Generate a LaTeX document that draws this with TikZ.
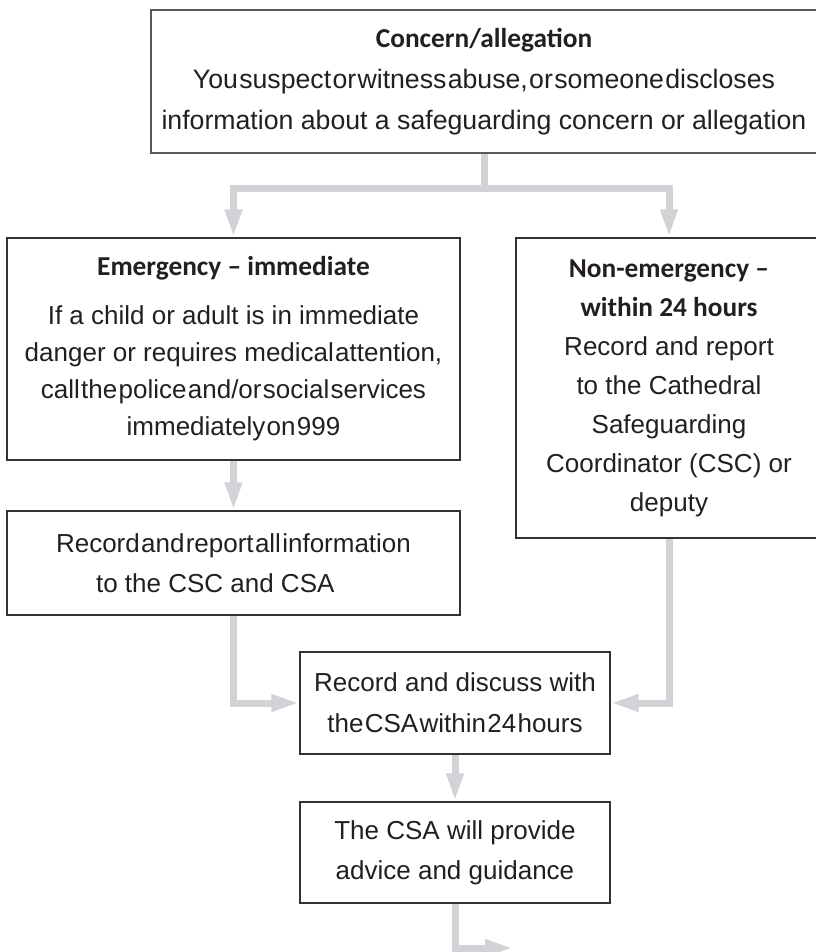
\documentclass[tikz,border=0pt]{standalone}
\usepackage{fontspec}
\setmainfont{Liberation Sans}
\newfontfamily\headfont[Ligatures=TeX]{Carlito}
\usetikzlibrary{arrows.meta}

\definecolor{flowgray}{RGB}{210,211,214}
\definecolor{inkgray}{RGB}{35,31,32}
\newcommand{\boxhead}[1]{{\headfont\bfseries\fontsize{20.5}{30}\selectfont #1}}
\newcommand{\tightwords}[1]{{\spaceskip=0.05em\relax #1}}

\begin{document}
\begin{tikzpicture}[
  x=0.75pt, y=-0.75pt,
  font=\fontsize{19.5}{30}\selectfont,
  box/.style={draw=black!80,line width=1.1pt,text=inkgray,align=center,inner sep=0pt},
  flow/.style={draw=flowgray,line width=5.25pt,-{Triangle[length=21pt,width=12pt]}}
]
  \useasboundingbox (0,0) rectangle (816,952);
  \clip (0,0) rectangle (816,952);
  % boxes
  \node[box,draw=black!65,line width=1.6pt,minimum width=499.5pt,minimum height=107.25pt,font=\fontsize{20}{30.75}\selectfont] (concern) at (484,81.5)
    {\boxhead{Concern/allegation}\\
     \tightwords{You suspect or witness abuse, or someone discloses}\\
     information about a safeguarding concern or allegation};
  \node[box,minimum width=339.75pt,minimum height=166.5pt,font=\fontsize{19.5}{27.75}\selectfont] (emerg) at (233.5,349)
    {\boxhead{Emergency -- immediate}\\[9pt]
     If a child or adult is in immediate\\
     danger or requires \tightwords{medical attention,}\\
     \tightwords{call the police and/or social services}\\
     \tightwords{immediately on 999}};
  \node[box,minimum width=229.5pt,minimum height=225pt,font=\fontsize{19.5}{29.25}\selectfont] (nonemerg) at (669,388)
    {\boxhead{Non-emergency --}\\
     \boxhead{within 24 hours}\\
     Record and report\\
     to the Cathedral\\
     Safeguarding\\
     Coordinator (CSC) or\\
     deputy};
  \node[box,align=left,minimum width=339.75pt,minimum height=78pt] (report) at (233.5,563)
    {\tightwords{Record and report all information}\\
     \hspace*{30pt}to the CSC and CSA};
  \node[box,minimum width=232.5pt,minimum height=76.5pt,font=\fontsize{19.5}{30.75}\selectfont] (discuss) at (455,703)
    {Record and discuss with\\
     \tightwords{the CSA within 24 hours}};
  \node[box,minimum width=232.5pt,minimum height=75.75pt] (advice) at (455,852.5)
    {The CSA will provide\\
     advice and guidance};
  % connectors
  \path (concern.south) ++(0,34) coordinate (split);
  \coordinate (next) at (513,948);
  \draw[flow] (concern.south) -- (split) -| (emerg.north);
  \draw[flow] (split) -| (nonemerg.north);
  \draw[flow] (emerg.south) -- (report.north);
  \draw[flow] (report.south) |- (discuss.west);
  \draw[flow] (nonemerg.south) |- (discuss.east);
  \draw[flow] (discuss.south) -- (advice.north);
  \draw[flow] (advice.south) |- (next);
\end{tikzpicture}
\end{document}
